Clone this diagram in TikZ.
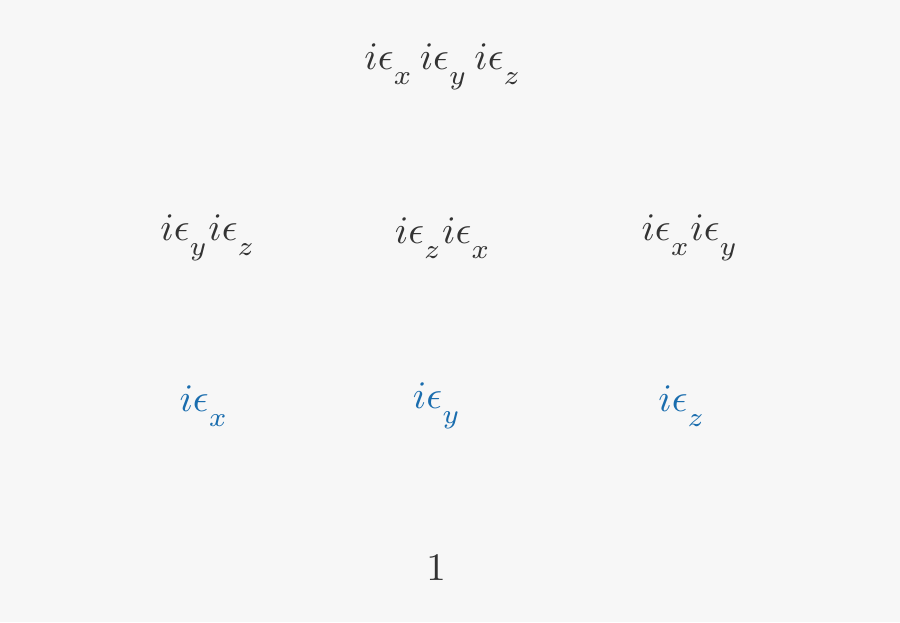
\documentclass[tikz,border=0pt]{standalone}
\usepackage{amsmath}
\usepackage{graphicx}
\definecolor{bg}{HTML}{F7F7F7}
\definecolor{txt}{HTML}{333333}
\definecolor{blu}{HTML}{1A6DAE}
\newcommand{\sbx}[1]{_{\raisebox{-0.22em}{$\scriptstyle #1$}}}
\newcommand{\scl}[1]{\scalebox{3.9}{$#1$}}
\begin{document}
\begin{tikzpicture}[x=1pt,y=1pt,
  lbl/.style={text=txt,inner sep=0pt},
  blbl/.style={lbl,text=blu}]
\fill[bg] (0,0) rectangle (900,622);
\useasboundingbox (0,0) rectangle (900,622);
\node[lbl] (top) at (443,555) {\scl{i\epsilon\sbx{x}\, i\epsilon\sbx{y}\, i\epsilon\sbx{z}}};
\node[lbl] (yz) at (208,384) {\scl{i\epsilon\sbx{y} i\epsilon\sbx{z}}};
\node[lbl] (zx) at (443,384) {\scl{i\epsilon\sbx{z} i\epsilon\sbx{x}}};
\node[lbl] (xy) at (690,384) {\scl{i\epsilon\sbx{x} i\epsilon\sbx{y}}};
\node[blbl] (x) at (204,216) {\scl{i\epsilon\sbx{x}}};
\node[blbl] (y) at (437,216) {\scl{i\epsilon\sbx{y}}};
\node[blbl] (z) at (682,216) {\scl{i\epsilon\sbx{z}}};
\node[lbl] (one) at (436,54) {\scl{1}};
\end{tikzpicture}
\end{document}
